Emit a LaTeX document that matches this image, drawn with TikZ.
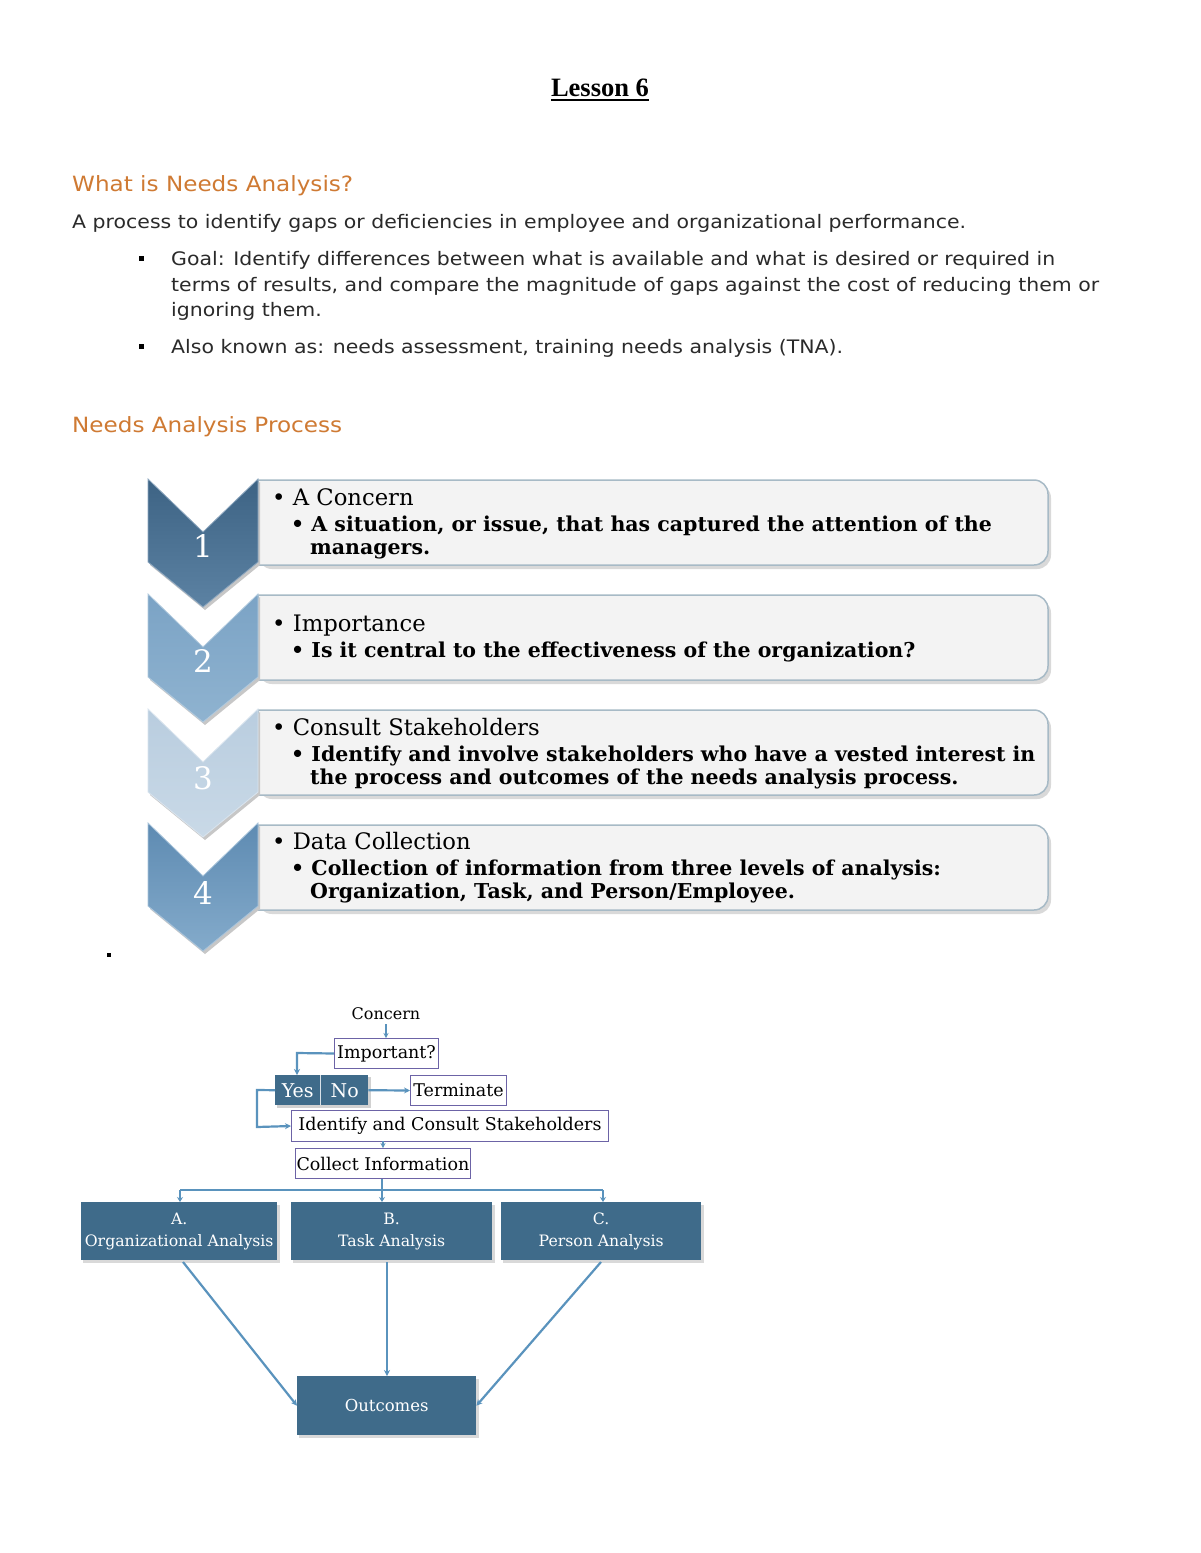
\documentclass[tikz,border=0pt]{standalone}
\usepackage{fontspec}
\setmainfont{DejaVu Serif}
\newfontfamily\verd[FakeStretch=1.1]{DejaVu Sans}
\newfontfamily\tnr{Liberation Serif}
\usetikzlibrary{arrows.meta,calc}
\definecolor{headorange}{HTML}{CF7A33}
\definecolor{bodytext}{HTML}{2A2A2A}
\definecolor{boxfill}{HTML}{F3F3F3}
\definecolor{boxedge}{HTML}{A7BAC6}
\definecolor{flowblue}{HTML}{3F6B8A}
\definecolor{arrowblue}{HTML}{5A93BD}
\definecolor{frameviolet}{HTML}{6C63A6}
\definecolor{chAt}{HTML}{3D6384}
\definecolor{chAb}{HTML}{5C82A3}
\definecolor{chBt}{HTML}{7BA3C5}
\definecolor{chBb}{HTML}{8FB3D0}
\definecolor{chCt}{HTML}{B9CDDF}
\definecolor{chCb}{HTML}{C9D9E7}
\definecolor{chDt}{HTML}{5E8BB2}
\definecolor{chDb}{HTML}{84ABCB}
\tikzset{
  bodyline/.style={anchor=base west, inner sep=0pt, text=bodytext, font=\verd\fontsize{18.6}{22}\selectfont},
  heading/.style={anchor=base west, inner sep=0pt, text=headorange, font=\verd\fontsize{21}{24}\selectfont},
  sqbullet/.style={fill=black, minimum size=5pt, inner sep=0pt},
  boxtitle/.style={anchor=base west, inner sep=0pt, font=\fontsize{22.7}{26}\selectfont},
  boxsub/.style={anchor=base west, inner sep=0pt, font=\bfseries\fontsize{20.5}{24}\selectfont},
  chevnum/.style={text=white, font=\fontsize{31}{31}\selectfont},
  framebox/.style={draw=frameviolet, line width=1pt, fill=white, inner sep=1pt, font=\fontsize{17.5}{20}\selectfont, anchor=north west},
  darkbox/.style={fill=flowblue, text=white, align=center, inner sep=0pt, font=\fontsize{15.7}{22}\selectfont},
  flowarrow/.style={draw=arrowblue, line width=2.2pt, -{Stealth[length=6pt,width=6pt]}},
  flowline/.style={draw=arrowblue, line width=2.2pt},
}
\newcommand{\chevronat}[3]{%
  \fill[black!22] (150,#1+3) -- (205,#1+56) -- (260,#1+3) -- (260,#1+86) -- (205,#1+131) -- (150,#1+86) -- cycle;
  \shade[top color=#2, bottom color=#3, draw=#3!70!white, line width=0.8pt]
    (148,#1) -- (203,#1+53) -- (258,#1) -- (258,#1+83) -- (203,#1+128) -- (148,#1+83) -- cycle;
}
\newcommand{\stepframe}[1]{%
  \fill[black!15, rounded corners=14pt] (258,#1+4) -- (1051,#1+4) -- (1051,#1+89) -- (258,#1+89) [sharp corners] -- cycle;
  \draw[fill=boxfill, draw=boxedge, line width=1.5pt] (258,#1) [rounded corners=14pt] -- (1048,#1) -- (1048,#1+85) [sharp corners] -- (258,#1+85) -- cycle;
}
\begin{document}
\begin{tikzpicture}[x=1pt,y=-1pt]
\useasboundingbox (0,0) rectangle (1200,1553);
\fill[white] (0,0) rectangle (1200,1553);

% title
\node[inner sep=0pt, font=\tnr\bfseries\fontsize{26.5}{30}\selectfont, anchor=base] (title) at (600,96) {Lesson 6};
\draw[line width=1.6pt] ($(title.base west)+(0,4)$) -- ($(title.base east)+(0,4)$);

% section 1
\node[heading] (h1) at (72,191) {What is Needs Analysis?};
\node[bodyline] (p1) at (72,228) {A process to identify gaps or deficiencies in employee and organizational performance.};
\node[sqbullet] (b1) at (141,258) {};
\node[bodyline] (g1) at (171,265) {Goal: Identify differences between what is available and what is desired or required in};
\node[bodyline] (g2) at (171,291) {terms of results, and compare the magnitude of gaps against the cost of reducing them or};
\node[bodyline] (g3) at (171,316) {ignoring them.};
\node[sqbullet] (b2) at (141,346) {};
\node[bodyline] (a1) at (171,353) {Also known as: needs assessment, training needs analysis (TNA).};

\node[heading] (h2) at (72,432) {Needs Analysis Process};

% step frames
\stepframe{480}
\stepframe{595}
\stepframe{710}
\stepframe{825}

% chevrons
\chevronat{479}{chAt}{chAb}
\chevronat{594}{chBt}{chBb}
\chevronat{709}{chCt}{chCb}
\chevronat{823}{chDt}{chDb}
\node[chevnum] (n1) at (203,546) {1};
\node[chevnum] (n2) at (203,661) {2};
\node[chevnum] (n3) at (203,778) {3};
\node[chevnum] (n4) at (203,893) {4};

% step texts
\node[boxtitle] (t1) at (272,505) {\textbullet\ A Concern};
\node[boxsub] (s1a) at (291,531) {\textbullet\ A situation, or issue, that has captured the attention of the};
\node[boxsub] (s1b) at (310,554) {managers.};

\node[boxtitle] (t2) at (272,631) {\textbullet\ Importance};
\node[boxsub] (s2a) at (291,657) {\textbullet\ Is it central to the effectiveness of the organization?};

\node[boxtitle] (t3) at (272,735) {\textbullet\ Consult Stakeholders};
\node[boxsub] (s3a) at (291,761) {\textbullet\ Identify and involve stakeholders who have a vested interest in};
\node[boxsub] (s3b) at (310,784) {the process and outcomes of the needs analysis process.};

\node[boxtitle] (t4) at (272,849) {\textbullet\ Data Collection};
\node[boxsub] (s4a) at (291,875) {\textbullet\ Collection of information from three levels of analysis:};
\node[boxsub] (s4b) at (310,898) {Organization, Task, and Person/Employee.};

\node[sqbullet, minimum size=4pt] (b3) at (109,955) {};

% flowchart
\node[inner sep=0pt, font=\fontsize{16}{20}\selectfont, anchor=base] (concern) at (386,1019) {Concern};
\node[framebox, minimum width=104pt, minimum height=30pt] (imp) at (334,1038) {Important?};
\fill[black!18] (277,1077) rectangle (371,1108);
\node[darkbox, minimum width=45pt, minimum height=30pt, anchor=north west, font=\fontsize{19}{20}\selectfont] (yes) at (275,1075) {Yes};
\node[darkbox, minimum width=47pt, minimum height=30pt, anchor=north west, font=\fontsize{19}{20}\selectfont] (no) at (321,1075) {No};
\draw[white!80!flowblue, line width=1pt] (320.5,1075) -- (320.5,1105);
\node[framebox, minimum width=96pt, minimum height=30pt] (term) at (410,1075) {Terminate};
\node[framebox, minimum width=317pt, minimum height=31pt] (ident) at (291,1110) {Identify and Consult Stakeholders};
\node[framebox, minimum width=173pt, minimum height=30pt] (coll) at (295,1148) {Collect Information};

\coordinate (yesin) at (297,1075);
\coordinate (yesturn) at (297,1053);
\draw[flowarrow, line width=1.6pt, -{Stealth[length=5pt,width=5pt]}] (386,1024) -- (imp.north -| concern);
\draw[flowarrow] (imp.west) -- (yesturn) -- (yesin);
\draw[flowarrow] (no.east) -- (term.west);
\coordinate (lt1) at (257,1090);
\coordinate (lt2) at (257,1127);
\draw[flowarrow] (yes.west) -- (lt1) -- (lt2) -- (ident.west);
\coordinate (idbot) at (383,1141);
\draw[flowarrow, line width=1.6pt, -{Stealth[length=5pt,width=5pt]}] (idbot) -- (coll.north -| idbot);

% analysis boxes
\fill[black!15] (83,1205) rectangle (280,1263);
\fill[black!15] (293,1205) rectangle (495,1263);
\fill[black!15] (503,1205) rectangle (704,1263);
\node[darkbox, minimum width=196pt, minimum height=58pt, anchor=north west] (A) at (81,1202) {A.\\Organizational Analysis};
\node[darkbox, minimum width=201pt, minimum height=58pt, anchor=north west] (B) at (291,1202) {B.\\Task Analysis};
\node[darkbox, minimum width=200pt, minimum height=58pt, anchor=north west] (C) at (501,1202) {C.\\Person Analysis};
\fill[black!15] (299,1379) rectangle (479,1438);
\node[darkbox, minimum width=179pt, minimum height=59pt, anchor=north west, font=\fontsize{16.5}{20}\selectfont] (out) at (297,1376) {Outcomes};

\coordinate (split) at (382,1190);
\coordinate (splitL) at (180,1190);
\coordinate (splitR) at (603,1190);
\draw[flowline] (coll.south -| split) -- (split);
\draw[flowline] (splitL) -- (splitR);
\draw[flowarrow, -{Stealth[length=5pt,width=6pt]}] (splitL) -- (A.north -| splitL);
\draw[flowarrow, -{Stealth[length=5pt,width=6pt]}] (split) -- (B.north -| split);
\draw[flowarrow, -{Stealth[length=5pt,width=6pt]}] (splitR) -- (C.north -| splitR);

\coordinate (aout) at (183,1262);
\coordinate (bout) at (387,1262);
\coordinate (cout) at (601,1262);
\draw[flowarrow] (aout) -- (out.west);
\draw[flowarrow] (bout) -- (out.north -| bout);
\draw[flowarrow] (cout) -- (out.east);
\end{tikzpicture}
\end{document}
